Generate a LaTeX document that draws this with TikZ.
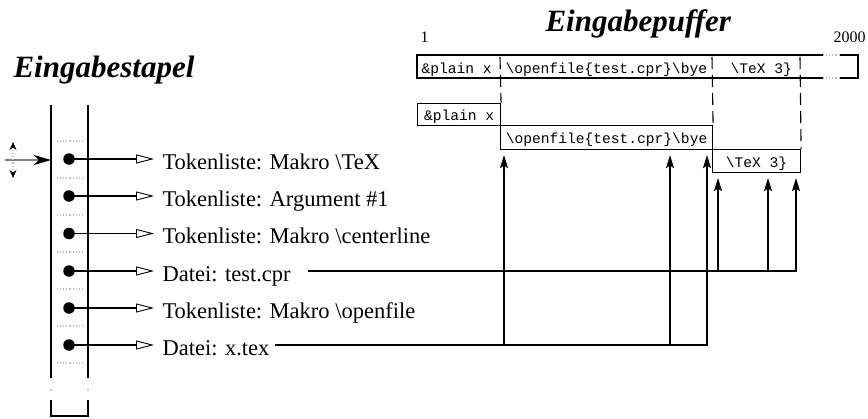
\documentclass[tikz,border=0pt]{standalone}
\usepackage{fontspec}
\setmainfont{Liberation Serif}
\setmonofont{Liberation Mono}
\usetikzlibrary{arrows.meta}
\begin{document}
\begin{tikzpicture}[x=1pt,y=-1pt,line width=1.1pt,
  title/.style={font=\fontsize{31}{31}\selectfont\bfseries\itshape, inner sep=0pt, anchor=base west},
  lbl/.style={font=\fontsize{22.5}{22.5}\selectfont, inner xsep=8pt, inner ysep=0pt, anchor=base west},
  num/.style={font=\fontsize{16}{16}\selectfont, inner sep=0pt, anchor=base west},
  bul/.style={circle, fill, inner sep=0pt, minimum size=11.5pt},
  tok/.style={-{Triangle[open,length=18pt,width=9pt,line width=0.9pt]}},
  mono/.style={font=\fontsize{14.6}{14.6}\selectfont\ttfamily},
  buf/.style={draw, mono, inner sep=0pt, text height=12pt, text depth=0pt, anchor=north west},
  buftext/.style={mono, inner sep=0pt, anchor=base west},
  sep/.style={dash pattern=on 12pt off 6pt},
  up/.style={-{Stealth[length=13pt,width=8pt,inset=2.5pt]}, shorten >=5pt},
  gap/.style={gray!50, dotted},
  stackline/.style={line width=1.4pt}
]
\useasboundingbox (0,0) rectangle (868,418);

% titles
\node[title] (t1) at (13,77) {Eingabestapel};
\node[title] (t2) at (545,31) {Eingabepuffer};
\node[num] (n1) at (420,42) {1};
\node[num] (n2) at (833,42) {2000};

% stack
\draw[stackline] (51,105) -- (51,378);
\draw[stackline] (88,105) -- (88,378);
\fill (51,390) circle (0.7pt);
\fill (88,390) circle (0.7pt);
\draw[stackline] (51,400) -- (51,416) -- (88,416) -- (88,400);
\foreach \y in {141,178,215,252,289,326,363}
  \draw[gap] (57,\y) -- (83,\y);

% input arrows
\draw[gray, -{Stealth[black,length=17pt,width=10pt,inset=5pt]}] (5,160) -- (51,160);
\draw[gap, {Stealth[black,length=8pt,width=7pt]}-{Stealth[black,length=8pt,width=7pt]}] (13,142) -- (13,178);

% entries
\node[bul] (s1) at (69,159) {};
\node[bul] (s2) at (69,196) {};
\node[bul] (s3) at (69,233.5) {};
\node[bul] (s4) at (69,271) {};
\node[bul] (s5) at (69,308) {};
\node[bul] (s6) at (69,345) {};
\node[lbl] (l1) at (154,169) {Tokenliste: Makro \textbackslash TeX};
\node[lbl] (l2) at (154,206) {Tokenliste: Argument \#1};
\node[lbl] (l3) at (154,243.5) {Tokenliste: Makro \textbackslash centerline};
\node[lbl] (l4) at (154,281) {Datei: test.cpr};
\node[lbl] (l5) at (154,318) {Tokenliste: Makro \textbackslash openfile};
\node[lbl] (l6) at (154,355) {Datei: x.tex};
\foreach \i in {1,...,6}
  \draw[tok] (s\i.center) -- (s\i.center -| l\i.west);

% input buffer
\draw[line width=1.7pt] (823,55) -- (417,55) -- (417,78) -- (823,78);
\draw[line width=1.7pt] (840,55) -- (858,55) -- (858,78) -- (840,78);
\draw[gap] (823,55) -- (840,55);
\draw[gap] (823,78) -- (840,78);
\node[buftext] (p1) at (421,73) {\&plain x};
\node[buftext] (p2) at (505,73) {\textbackslash openfile\{test.cpr\}\textbackslash bye};
\node[buftext] (p3) at (730,73) {\textbackslash TeX 3\}};

\node[buf, minimum width=83pt, minimum height=22pt] (pl) at (417,103) {\&plain x};
\node[buf, minimum width=212pt, minimum height=24pt] (of) at (500,125) {\textbackslash openfile\{test.cpr\}\textbackslash bye};
\node[buf, minimum width=88pt, minimum height=23pt] (tx) at (712,149) {\textbackslash TeX 3\}};

\draw[sep] (500,57) -- (pl.north east);
\draw[sep] (712,57) -- (of.north east);
\draw[sep] (800,57) -- (tx.north east);

% file pointers
\coordinate (xs) at (275,345);
\coordinate (xa) at (504,345);
\coordinate (xb) at (670,345);
\coordinate (xc) at (707,345);
\draw[up] (xs) -- (xc) -- (xc |- of.south);
\draw[up] (xa) -- (xa |- of.south);
\draw[up] (xb) -- (xb |- of.south);

\coordinate (ts) at (308,271);
\coordinate (ta) at (718,271);
\coordinate (tb) at (768,271);
\coordinate (tc) at (796,271);
\draw[up] (ts) -- (tc) -- (tc |- tx.south);
\draw[up] (ta) -- (ta |- tx.south);
\draw[up] (tb) -- (tb |- tx.south);
\end{tikzpicture}
\end{document}
